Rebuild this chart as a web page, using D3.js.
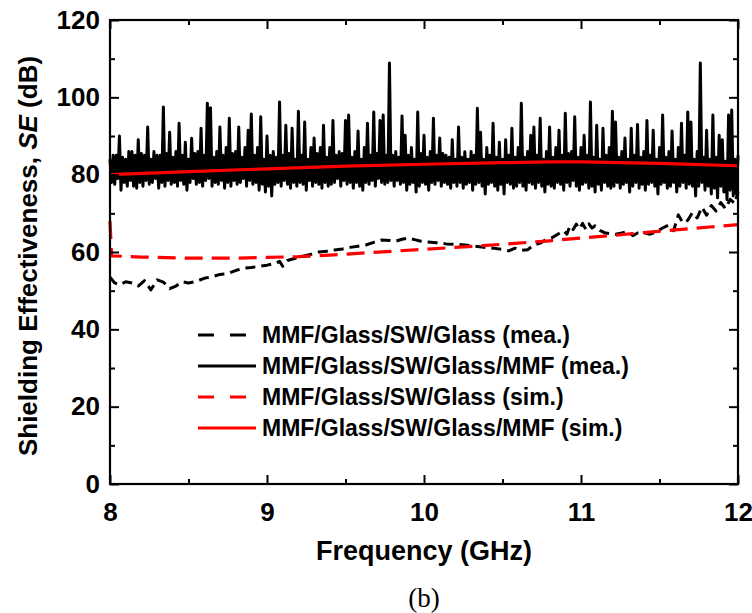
<!DOCTYPE html>
<html>
<head>
<meta charset="utf-8">
<script src="https://cdn.jsdelivr.net/npm/d3@7"></script>
<style>
  body { margin: 0; background: #fff; }
  text { font-family: "Liberation Sans", Arial, sans-serif; font-weight: bold; }
</style>
</head>
<body>
<svg width="752" height="613"></svg>
<script>
/*------------------------
  ------ VARIABLES -------
  ------------------------*/

// ticks
var x_major = [8, 9, 10, 11, 12] ;
var x_minor = [8.5, 9.5, 10.5, 11.5] ;
var y_major = [0, 20, 40, 60, 80, 100, 120] ;
var y_minor = [10, 30, 50, 70, 90, 110] ;

// legend
var legend_labels = ["MMF/Glass/SW/Glass (mea.)",
                     "MMF/Glass/SW/Glass/MMF (mea.)",
                     "MMF/Glass/SW/Glass (sim.)",
                     "MMF/Glass/SW/Glass/MMF (sim.)"] ;

// MMF/Glass/SW/Glass/MMF (mea.) : one value every 0.01 GHz from 8 GHz
// (one row = 0.2 GHz)
var mmf2_mea_start = 8 ;
var mmf2_mea_step = 0.01 ;
var mmf2_mea_se = [
    84, 78, 85, 77.5, 85, 79, 90, 76, 84.5, 78, 84, 77, 86, 78.5, 86, 77, 85, 76.5, 89, 78,
    85.5, 77, 85, 78.5, 92.3, 77.5, 84, 78, 86, 79, 85, 76.5, 85, 78, 97.5, 77, 85.5, 78.5, 91, 77.5,
    84.5, 78, 86, 77, 93.3, 78.5, 85, 77.5, 88.4, 76, 84, 78, 89.4, 79, 85.5, 77.5, 86, 78, 92, 77,
    85, 78.5, 98.5, 79, 97.3, 77, 84.5, 78, 86, 77.5, 92.3, 78.5, 85, 76.5, 87, 78, 94.6, 77, 85.5, 78.5,
    86, 77.5, 92.3, 78, 84.5, 79, 87, 77, 91.5, 78.5, 95.7, 77.5, 85, 78, 87, 76, 95, 77.5, 84, 75.5,
    90, 77, 85, 74.5, 86, 77.5, 84.5, 78, 98.8, 77, 85, 78.5, 92.8, 77.5, 85.5, 76.5, 92, 78, 84, 77,
    96.4, 78, 85, 77.5, 93.6, 76, 84, 78.5, 87, 77, 89.5, 78, 85.5, 77.5, 87, 76.5, 92.8, 78, 84.5, 77,
    87, 77.5, 94, 78, 85, 79, 86, 77, 85.5, 78.5, 94, 77.5, 95.4, 78, 84.5, 76.5, 86, 78, 91.3, 77,
    84, 76, 87, 78, 93.3, 77.5, 85, 78.5, 96.2, 77, 85.5, 79, 94, 78, 95.4, 77.5, 85, 78, 108.9, 78.5,
    85, 77, 86, 78.5, 84.5, 77.5, 95.2, 78, 90.2, 76, 85, 77.5, 87, 78, 84, 75.5, 96.2, 77, 85.5, 78,
    90.2, 77.5, 84.5, 76, 86, 78, 94.6, 77.5, 85, 78.5, 89.5, 77, 85.5, 78, 85, 77.5, 84.5, 76.5, 89, 78,
    84, 77, 92.3, 78, 84.5, 76.5, 85.9, 77.5, 84, 78, 86, 76, 85, 77.5, 97.2, 78, 91, 77, 84, 75,
    87, 77.5, 85, 78, 93.3, 77, 84.5, 76, 88.4, 77.5, 84, 75, 89, 78, 85, 77.5, 92, 76.5, 84.5, 77,
    87, 78, 98.5, 77, 84.5, 76, 86, 78, 90.2, 77.5, 92.3, 76.5, 85, 78, 94.6, 77, 84, 75.5, 86, 77.5,
    92.3, 77, 84.5, 76.5, 87, 78, 91.5, 77.5, 85, 76, 95.9, 78, 85.5, 77, 86, 78.5, 95, 77, 84.5, 76,
    87, 77.5, 90.2, 78, 85, 76.5, 98.8, 77, 84.5, 75.5, 92.8, 77.5, 84, 76, 92, 78, 85, 77, 87, 76.5,
    96.4, 77, 93.6, 78, 84.5, 76.5, 86, 77.5, 89.5, 78, 84, 75.5, 92, 77, 85, 78, 93, 76.5, 84.5, 77.5,
    86, 76, 94, 77.5, 85, 78, 91.5, 77, 84, 75, 87, 77.5, 95.4, 78, 84.5, 76.5, 86, 77, 91.3, 78,
    84, 75.5, 87, 77, 93.3, 78, 85, 76.5, 96.2, 77.5, 93.6, 77, 84, 74.5, 86, 77, 108.9, 78, 84.5, 76,
    91.5, 77, 84, 75, 95.4, 76.5, 84.5, 74, 90.2, 77, 89, 75.5, 83.5, 73.5, 95.4, 76, 96.7, 74.5, 84, 75,
    85] ;

// MMF/Glass/SW/Glass (mea.)
var mmf1_mea_freq = [8.00, 8.03, 8.06, 8.10, 8.14, 8.18, 8.22, 8.26, 8.30, 8.34,
                     8.38, 8.42, 8.46, 8.50, 8.55, 8.60, 8.65, 8.70, 8.75, 8.80,
                     8.85, 8.90, 8.95, 9.00, 9.05, 9.08, 9.10, 9.13, 9.18, 9.23,
                     9.28, 9.33, 9.38, 9.43, 9.48, 9.53, 9.58, 9.63, 9.68, 9.73,
                     9.78, 9.82, 9.86, 9.90, 9.94, 9.98, 10.02, 10.08, 10.14, 10.20,
                     10.26, 10.32, 10.38, 10.44, 10.50, 10.54, 10.58, 10.62, 10.66, 10.70,
                     10.74, 10.78, 10.82, 10.86, 10.89, 10.91, 10.93, 10.95, 10.97, 10.99,
                     11.01, 11.03, 11.05, 11.07, 11.09, 11.12, 11.15, 11.18, 11.22, 11.26,
                     11.30, 11.33, 11.36, 11.40, 11.44, 11.48, 11.52, 11.56, 11.59, 11.62,
                     11.65, 11.68, 11.71, 11.74, 11.77, 11.80, 11.83, 11.86, 11.89, 11.92,
                     11.95, 11.98, 12.00] ;
var mmf1_mea_se = [53.5, 52.0, 51.5, 52.3, 52.0, 51.2, 52.6, 50.2, 52.8, 52.2,
                   50.5, 51.2, 52.3, 52.0, 52.4, 53.2, 53.6, 54.2, 54.4, 55.2,
                   55.8, 56.0, 56.3, 56.6, 57.0, 57.6, 56.3, 57.8, 58.4, 58.9,
                   59.4, 60.0, 60.2, 60.5, 60.8, 61.2, 61.5, 61.8, 62.5, 63.1,
                   63.0, 62.8, 63.3, 63.6, 63.2, 62.8, 62.6, 62.4, 62.1, 62.0,
                   61.8, 61.5, 61.2, 61.0, 60.7, 60.3, 61.0, 60.4, 60.6, 61.8,
                   62.3, 63.2, 63.8, 64.8, 65.5, 64.6, 66.8, 65.8, 67.2, 66.0,
                   67.4, 65.9, 67.3, 66.2, 66.8, 65.6, 65.0, 64.8, 64.6, 64.9,
                   65.3, 64.2, 64.9, 65.0, 64.6, 65.2, 66.2, 67.0, 65.5, 69.6,
                   67.5, 68.2, 70.2, 68.8, 71.6, 69.5, 72.0, 70.6, 72.8, 71.2,
                   73.6, 72.5, 75.5] ;

// MMF/Glass/SW/Glass (sim.)
var mmf1_sim_freq = [8.0, 8.01, 8.2, 8.5, 8.8, 9.0, 9.2, 9.4, 9.6, 9.8, 10.0,
                     10.2, 10.4, 10.6, 10.8, 11.0, 11.2, 11.4, 11.6, 11.8, 12.0] ;
var mmf1_sim_se = [68, 59, 58.7, 58.4, 58.4, 58.6, 58.8, 59.2, 59.7, 60.2, 60.7,
                   61.2, 61.7, 62.3, 62.9, 63.6, 64.3, 65.0, 65.7, 66.4, 67.1] ;

// MMF/Glass/SW/Glass/MMF (sim.)
var mmf2_sim_freq = [8.0, 8.5, 9.0, 9.5, 10.0, 10.5, 10.8, 11.0, 11.5, 12.0] ;
var mmf2_sim_se = [80.0, 80.8, 81.5, 82.2, 82.7, 83.1, 83.3, 83.3, 82.9, 82.3] ;

// display
var plot = {left: 110, right: 738, top: 20, bottom: 484} ;
var tick = {major: 9, minor: 5} ;
var legend = {x: 198, y: 335, row: 31, len: 58, txt_x: 262} ;

var svg = d3.select("svg") ;
var x = d3.scaleLinear().domain([8, 12]).range([plot.left, plot.right]) ;
var y = d3.scaleLinear().domain([0, 120]).range([plot.bottom, plot.top]) ;


/*------------------------
  ------- SERIES ---------
  ------------------------*/

function pairs(freq, se) {
    return freq.map(function(f, i) { return [f, se[i]] ; }) ;
}

function mea2_pairs() {
    return mmf2_mea_se.map(function(v, i) {
        return [mmf2_mea_start + i * mmf2_mea_step, v] ;
    }) ;
}

var line = d3.line()
    .x(function(d) { return x(d[0]) ; })
    .y(function(d) { return y(d[1]) ; }) ;

// in legend order: mea. dashed, mea. solid, sim. dashed, sim. solid
var series = [
    {data: pairs(mmf1_mea_freq, mmf1_mea_se), color: "#000", width: 3, dash: "10,6", z: 2},
    {data: mea2_pairs(), color: "#000", width: 3, dash: null, z: 0},
    {data: pairs(mmf1_sim_freq, mmf1_sim_se), color: "#ff0000", width: 3.2, dash: "18,9", z: 3},
    {data: pairs(mmf2_sim_freq, mmf2_sim_se), color: "#ff0000", width: 3.2, dash: null, z: 1}
] ;


/*------------------------
  ------- DISPLAY --------
  ------------------------*/

function display_series() {
    var drawn = series.slice().sort(function(a, b) { return a.z - b.z ; }) ;
    svg.append("g")
        .attr("class", "series-layer")
        .selectAll("path")
        .data(drawn)
        .enter()
        .append("path")
        .attr("d", function(s) { return line(s.data) ; })
        .attr("fill", "none")
        .attr("stroke", function(s) { return s.color ; })
        .attr("stroke-width", function(s) { return s.width ; })
        .attr("stroke-dasharray", function(s) { return s.dash ; })
        .attr("stroke-linejoin", "round") ;
}

function add_axis(axis, tx, ty, labels) {
    var g = svg.append("g")
        .attr("transform", "translate(" + tx + "," + ty + ")")
        .call(axis) ;
    g.select(".domain").remove() ;
    g.selectAll("line").attr("stroke", "#000").attr("stroke-width", 2) ;
    if (labels) {
        g.selectAll("text")
            .attr("font-size", 26)
            .attr("fill", "#000") ;
    }
    return g ;
}

function display_axes() {
    // bottom
    add_axis(d3.axisBottom(x).tickValues(x_major).tickSize(-tick.major).tickPadding(19)
             .tickFormat(d3.format("d")), 0, plot.bottom, true) ;
    add_axis(d3.axisBottom(x).tickValues(x_minor).tickSize(-tick.minor).tickFormat(""),
             0, plot.bottom, false) ;
    // top
    add_axis(d3.axisTop(x).tickValues(x_major).tickSize(-tick.major).tickFormat(""),
             0, plot.top, false) ;
    add_axis(d3.axisTop(x).tickValues(x_minor).tickSize(-tick.minor).tickFormat(""),
             0, plot.top, false) ;
    // left
    add_axis(d3.axisLeft(y).tickValues(y_major).tickSize(-tick.major).tickPadding(10),
             plot.left, 0, true) ;
    add_axis(d3.axisLeft(y).tickValues(y_minor).tickSize(-tick.minor).tickFormat(""),
             plot.left, 0, false) ;
    // right
    add_axis(d3.axisRight(y).tickValues(y_major).tickSize(-tick.major).tickFormat(""),
             plot.right, 0, false) ;
    add_axis(d3.axisRight(y).tickValues(y_minor).tickSize(-tick.minor).tickFormat(""),
             plot.right, 0, false) ;

    svg.append("rect")
        .attr("x", plot.left)
        .attr("y", plot.top)
        .attr("width", plot.right - plot.left)
        .attr("height", plot.bottom - plot.top)
        .attr("fill", "none")
        .attr("stroke", "#000")
        .attr("stroke-width", 2.2) ;
}

function display_titles() {
    svg.append("text")
        .attr("x", (plot.left + plot.right) / 2)
        .attr("y", 560)
        .attr("text-anchor", "middle")
        .attr("font-size", 27)
        .text("Frequency (GHz)") ;

    var yt = svg.append("text")
        .attr("transform", "translate(37," + ((plot.top + plot.bottom) / 2 + 4) + ") rotate(-90)")
        .attr("text-anchor", "middle")
        .attr("font-size", 26) ;
    yt.append("tspan").text("Shielding Effectiveness, ") ;
    yt.append("tspan").attr("font-style", "italic").text("SE") ;
    yt.append("tspan").text(" (dB)") ;

    svg.append("text")
        .attr("x", (plot.left + plot.right) / 2)
        .attr("y", 607)
        .attr("text-anchor", "middle")
        .attr("font-size", 27)
        .style("font-family", "'Liberation Serif', 'Times New Roman', serif")
        .style("font-weight", "normal")
        .text("(b)") ;
}

function display_legend() {
    var rows = svg.append("g")
        .attr("class", "legend")
        .selectAll("g")
        .data(legend_labels)
        .enter()
        .append("g")
        .attr("transform", function(d, i) {
            return "translate(0," + (legend.y + i * legend.row) + ")" ;
        }) ;

    rows.append("line")
        .attr("x1", legend.x)
        .attr("x2", legend.x + legend.len)
        .attr("stroke", function(d, i) { return series[i].color ; })
        .attr("stroke-width", 3)
        .attr("stroke-dasharray", function(d, i) { return series[i].dash ? "16,16" : null ; }) ;

    rows.append("text")
        .attr("x", legend.txt_x)
        .attr("dy", "0.36em")
        .attr("font-size", 23)
        .text(function(d) { return d ; }) ;
}

/*------------------
  ------ RUN -------
  ------------------*/

display_series() ;
display_axes() ;
display_titles() ;
display_legend() ;
</script>
</body>
</html>
